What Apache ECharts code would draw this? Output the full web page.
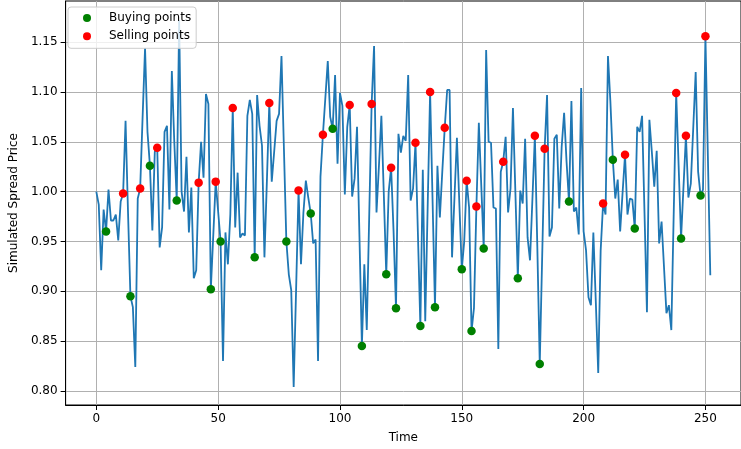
<!DOCTYPE html>
<html>
<head>
<meta charset="utf-8">
<script src="https://cdn.jsdelivr.net/npm/echarts@6/dist/echarts.min.js"></script>
<style>
html,body{margin:0;padding:0;background:#fff;}
#chart{width:741px;height:449px;}
</style>
</head>
<body>
<div id="chart"></div>
<script>
// Simulated spread price, one value per time step (t = 0 .. 252)
const spread = [
1.000,0.987,0.921,0.982,0.960,1.002,0.971,0.971,0.977,0.951,
0.990,0.998,1.071,0.980,0.895,0.884,0.824,0.993,1.003,1.075,
1.144,1.060,1.026,0.961,1.040,1.044,0.944,0.964,1.060,1.066,
0.982,1.121,1.050,0.991,1.172,1.000,0.980,1.035,0.959,1.004,
0.913,0.921,1.009,1.050,1.014,1.098,1.088,0.902,0.956,1.010,
0.980,0.950,0.830,0.959,0.927,0.977,1.084,0.964,1.019,0.954,
0.958,0.956,1.076,1.092,1.078,0.934,1.097,1.066,1.046,0.934,
1.010,1.089,1.010,1.040,1.071,1.078,1.136,1.043,0.950,0.917,
0.901,0.804,0.902,1.001,0.927,0.979,1.011,0.994,0.978,0.948,
0.952,0.830,1.015,1.057,1.094,1.131,1.075,1.063,1.117,1.028,
1.099,1.086,0.997,1.065,1.087,0.995,1.013,1.065,0.955,0.845,
0.927,0.861,0.975,1.088,1.146,0.979,1.026,1.076,0.997,0.917,
1.000,1.024,0.960,0.883,1.058,1.039,1.056,1.051,1.117,0.991,
1.003,1.049,0.957,0.865,1.022,0.870,0.985,1.100,0.992,0.884,
1.026,0.974,1.020,1.064,1.102,1.102,0.934,0.994,1.054,0.988,
0.922,0.950,1.011,0.984,0.860,0.883,0.985,1.069,1.006,0.943,
1.142,1.050,1.049,0.984,0.983,0.842,1.020,1.030,1.055,0.979,
1.003,1.084,0.999,0.913,1.001,0.988,1.053,0.954,0.931,0.993,
1.056,0.945,0.827,0.935,1.043,1.097,0.955,0.964,1.053,1.057,
0.983,1.045,1.079,1.030,0.990,1.091,0.980,0.984,0.957,1.104,
0.960,0.941,0.894,0.886,0.959,0.890,0.818,0.941,0.988,0.977,
1.136,1.090,1.032,0.993,1.012,0.960,0.999,1.037,0.977,0.993,
0.992,0.963,1.065,1.060,1.076,0.978,0.879,1.072,1.040,1.005,
1.041,0.948,0.970,0.924,0.878,0.886,0.861,0.980,1.099,1.026,
0.953,1.005,1.056,0.994,1.008,1.064,1.120,1.020,0.996,1.002,
1.156,1.036,0.916
];
const time = spread.map((_, i) => i);

// Time steps flagged as buying / selling points
const buyIdx = [4,14,22,33,47,51,65,78,88,97,109,119,123,133,139,150,154,159,173,182,194,212,221,240,248];
const sellIdx = [11,18,25,42,49,56,71,83,93,104,113,121,131,137,143,152,156,167,180,184,208,217,238,242,250];

// Tick labels
const xTicks = [0,50,100,150,200,250];
const yTicks = [0.80,0.85,0.90,0.95,1.00,1.05,1.10,1.15];

const FONT = 'DejaVu Sans';
const chart = echarts.init(document.getElementById('chart'), null, {renderer:'canvas'});
chart.setOption({
  animation:false,
  backgroundColor:'#ffffff',
  grid:{left:64, top:1, right:-7, bottom:39, containLabel:false, show:true, borderColor:'#000', borderWidth:1, backgroundColor:'transparent'},
  legend:{
    data:['Buying points','Selling points'],
    orient:'vertical', left:68, top:7,
    padding:[5,5,6,15], itemGap:6.3,
    itemWidth:8, itemHeight:8, icon:'circle',
    textStyle:{fontSize:12, fontFamily:FONT, color:'#000', padding:[0,0,0,13]},
    backgroundColor:'rgba(255,255,255,0.8)', borderColor:'#cccccc', borderWidth:1, borderRadius:3
  },
  xAxis:{
    type:'value', min:-12.6, max:264.6,
    name:'Time', nameLocation:'middle', nameGap:27,
    nameTextStyle:{fontSize:12, fontFamily:FONT, color:'#000'},
    axisLine:{show:true, onZero:false, lineStyle:{color:'#000', width:1}},
    axisTick:{show:true, customValues:xTicks, length:5, lineStyle:{color:'#000'}},
    axisLabel:{customValues:xTicks, margin:8, fontSize:12, fontFamily:FONT, color:'#000'},
    splitLine:{show:true, lineStyle:{color:'#b0b0b0', width:1}}
  },
  yAxis:{
    type:'value', min:0.7858, max:1.1913,
    name:'Simulated Spread Price', nameLocation:'middle', nameGap:44,
    nameTextStyle:{fontSize:12, fontFamily:FONT, color:'#000'},
    axisLine:{show:true, onZero:false, lineStyle:{color:'#000', width:1}},
    axisTick:{show:true, customValues:yTicks, length:5, lineStyle:{color:'#000'}},
    axisLabel:{customValues:yTicks, margin:8, fontSize:12, fontFamily:FONT, color:'#000',
      formatter:v=>Number(v).toFixed(2)},
    splitLine:{show:true, lineStyle:{color:'#b0b0b0', width:1}}
  },
  series:[
    {name:'Spread', type:'line', data:time.map(t=>[t, spread[t]]), showSymbol:false,
     lineStyle:{color:'#1f77b4', width:1.8}, itemStyle:{color:'#1f77b4'}, z:2},
    {name:'Buying points', type:'scatter', data:buyIdx.map(t=>[t, spread[t]]),
     symbol:'circle', symbolSize:8.5, itemStyle:{color:'#008000', opacity:1}, z:3},
    {name:'Selling points', type:'scatter', data:sellIdx.map(t=>[t, spread[t]]),
     symbol:'circle', symbolSize:8.5, itemStyle:{color:'#ff0000', opacity:1}, z:3}
  ]
});
</script>
</body>
</html>
